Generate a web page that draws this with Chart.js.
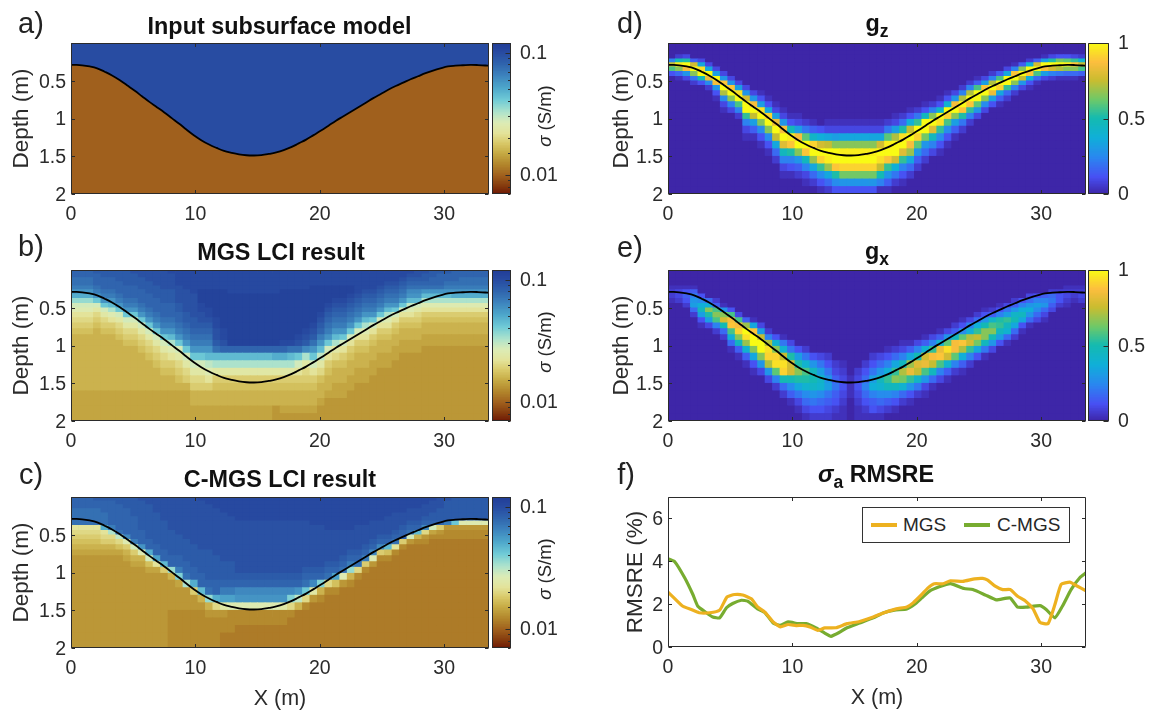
<!DOCTYPE html>
<html><head><meta charset="utf-8">
<script src="https://cdn.jsdelivr.net/npm/chart.js@4/dist/chart.umd.js"></script>
<style>
html,body{margin:0;padding:0;background:#fff;width:1150px;height:713px;overflow:hidden;font-family:"Liberation Sans",Arial,sans-serif;color:#262626}
canvas{position:absolute}
.t{position:absolute;white-space:nowrap;transform:translate(-50%,-50%)}
.title{font-weight:bold;font-size:23.4px;color:#111}
.title sub{font-size:17.5px;vertical-align:-6px;line-height:0}
.letter{font-size:29px;color:#222}
.cb{font-size:18.5px;transform:translate(-50%,-50%) rotate(-90deg)}
#legend{position:absolute;left:862px;top:507px;width:206px;height:34px;border:1px solid #333;background:#fff;font-size:19px;z-index:5}
#legend span{position:absolute;top:6px}
#legend b{position:absolute;top:15px;height:4px;width:26px}
</style></head><body>
<div id="legend"><b style="left:8px;background:#edb120"></b><span style="left:40px">MGS</span><b style="left:101px;background:#77ac30"></b><span style="left:134px">C-MGS</span></div>
<script>
const seriesNames = ["MGS", "C-MGS"];
const xTicks = [0, 10, 20, 30];
const depthTicks = [0.5, 1, 1.5, 2];
const sigmaTicks = [0.1, 0.01];
const sensTicks = [0, 0.5, 1];
const columnX = [0.3,0.9,1.5,2.1,2.7,3.3,3.9,4.5,5.1,5.7,6.3,6.9,7.5,8.1,8.7,9.3,9.9,10.5,11.1,11.7,12.3,12.9,13.5,14.1,14.7,15.3,15.9,16.5,17.1,17.7,18.3,18.9,19.5,20.1,20.7,21.3,21.9,22.5,23.1,23.7,24.3,24.9,25.5,26.1,26.7,27.3,27.9,28.5,29.1,29.7,30.3,30.9,31.5,32.1,32.7,33.3];
const layerTop = [0,0.05,0.10,0.155,0.21,0.26,0.315,0.375,0.44,0.50,0.56,0.63,0.70,0.775,0.855,0.93,1.01,1.10,1.20,1.30,1.40,1.50,1.60,1.70,1.80,1.90];
const interfaceX = [0].concat(columnX, [33.6]);
const interfaceDepth = [0.29,0.29,0.295,0.31,0.335,0.38,0.43,0.49,0.56,0.63,0.705,0.78,0.85,0.92,0.995,1.07,1.15,1.225,1.29,1.345,1.39,1.43,1.455,1.475,1.487,1.49,1.485,1.47,1.45,1.42,1.38,1.33,1.28,1.22,1.16,1.095,1.03,0.97,0.91,0.85,0.79,0.73,0.675,0.62,0.57,0.525,0.48,0.44,0.40,0.365,0.335,0.31,0.30,0.295,0.29,0.292,0.298,0.30];

// Panel b: colour level (base 36) per layer, top to bottom, last level repeats to the base
const mgsColumns = ["uuttsqokhgedcbaaaaaaaa9999","uuttsqokhgedcbaaaaaaaa9999","uuttsqokhgedcbaaaaaaaa9999","vuuutsqmhfdcbaaaaaaaaa9999","vvuuutsqmhfdcbaaaaaaaa9999","vvuuutsqnjgecbaaaaaaaa9999","vvvuuutsqmhfdcbaaaaaaa9999","vvvvuuutsqmhfdcbaaaaaa9999","wvvvuuutsqmhfdcbaaaaaa9999","wwvvvuuutsqmhfdcbaaaaa9999","wwwvvvuuutsqmhfdcbaaaa9999","wwwwvvvuuutsqmhfdcbaaa9999","wwwwwvvvuuutsqmhfdcbaa9999","xwwwwvvvuuutsqnjgecbaa9999","xxxxwwwwvvuutsqmhfdcba9999","xxxxxwwwwwvvutsqmhfdca9999","xxxxxxwwwwwvvutsqmhfdcaa99","xxxxxyyyxxwwvutsqmhfdcaa99","xxxxxyyyyxxwvutsqnigecaa99","xxxxxyyyyyyxxwwvtnjfcbaa99","xxxxxyyyyyyyyxxwunjfcbaa99","xxxxxxyyyyyyyyyyunjfcbaa99","xxxxxxyyyyyyyyyyunjfcbaa99","xxxxxxyyyyyyyyyyunjfcbaa99","xxxxxxyyyyyyyyyyunjfcbaa99","xxxxxxyyyyyyyyyyunjfcbaa99","xxxxxxyyyyyyyyyyunjfcbaa99","xxxxxxyyyyyyyyyyuojfcbaa88","xxxxxyyyyyyyyyyxuojfcbaa98","xxxxxyyyyyyyyyyxtnjfcbaa98","xxxxxyyyyyyyyyxwtmhecbaa98","xxxxxyyyyyyyyxwvrjfdcbaa98","xxxxyyyyyyyyxwvtqmhecbaa98","xxxxyyyyyyxwvusqnifdbaa988","xxxxyyyyxwvutsqmhecbaa9888","xxxxyyyxwvutsqnjfdbaa99888","xxxxyyyxwvutsqmhecbaa99888","xxxxyyxwvutsqmhecbaa998888","xxxxxxwvutsqmhecbaa9988888","xxxxxwvutsqnjgecbaa9988888","xxxxxwvutsqmhecbaa99888888","xxxxwvutsqmhecbaa998888888","xxxwvutsqnjgecbaa998888888","xxxwvutsqmhecbaa9988888888","xxwvutsqmhecbaa99888888888","xwvutrqnigecbaa99888888888","wwvutrqnhfdcbaa99888888888","wvvutqnjgecbaa998888888888","vvuutqnjgecbaa998888888888","vuuutqnjgecbaa998888888888","vuutsqnjgecbaa998888888888","uuutsqojgecbaa998888888888","uuttsqojgecbaa998888888888","uuttsqojgecbaa998888888888","uuttsqojgecbaa998888888888","uuttsqojgecbaa998888888888"];
// Panel c
const cmgsColumns = ["uuuttttedcba98","uuuttttedcba98","uuuttttedcba98","vuuttttedcba98","vuuutttoedca98","vuuuuuusjdca98","vvuuuuuutidb98","vvvuuuuuurgca98","vvvvvuuuuushca98","wvvvvvvvuuuqga98","wwvvvvvvvvuuohb98","wwwwvvvvvvvuupe98","wwwwwwvvvvvvuunc8","wwwwwwwwvvvvvuuka88887","wwwwwwwwwvvvvuusl98887","wwwwwwwwwwvvvvuutj8887","wwwwwwwwwwwvvvvuuoc887","xwwwwwwwwwwwvvvvuuna87","xxwwwwwwwwwwvvvvvutka87","xxxwwwwwwwwwwvvvvuuod87","xxxxwwwwwwwwwwvvvuspf87766","xxxxxwwwwwwwwwvvvuspg77766","xxxxxxwwwwwwwwwwvurqg77666","xxxxxxwwwwwwwwwwvurqg77666","xxxxxxwwwwwwwwwwvurqg77666","xxxxxxwwwwwwwwwwvurqg77666","xxxxxxwwwwwwwwwwvurqg77666","xxxxxxwwwwwwwwwwvurqg77666","xxxxxxwwwwwwwwwwvurqf77666","xxxxxxwwwwwwwwwwvurld76","xxxxxxwwwwwwwwwwvuqia6","xxxxxxwwwwwwwwwvutmd76","xxxxxxxwwwwwwwwvurf86","xxxxxxxwwwwwwwwvula76","xxxxxxxxwwwwwwvutd76","xxxxxxxxwwwwwwvupb76","xxxxxxxxwwwwwvutg86","xxxxxxxxwwwwvuska76","xxxxxxxwwwwwvutd76","xxxxxxxwwwwvusc76","xxxxxxwwwwvurg86","xxxxxxwwwvurc76","xxxxxwwwwvunb76","xxxxwwwwvute76","xxxxwwwvuuc76","xxxwwwvuth86","xxxwwwvuna76","xxwwwvurd876","xwwwvvuh976","wwwvvvuc876","wvvvvvs8776","vvvvvvm8776","vvvvvvg8776","vvvvvvg8776","vvvvvvg8776","vvvvvvg8776"];
// Panel d: first non-zero layer of each column, then its levels
const gzStart = [4,3,3,4,4,5,6,7,8,9,10,11,11,12,13,14,15,15,16,16,17,16,16,16,16,16,16,16,16,16,15,15,14,14,13,13,12,11,11,10,9,8,8,7,7,6,5,5,4,4,3,3,3,3,3,3];
const gzColumns = ["8qk4","2hyn61","3izua3","5rzn72","3cxzh4","3czt92","3bzua41","3avzp931","3avzn83","3bxzk82","3arzzj831","3auzqb51","14bxzn941","14cwzn941","13btzqc62","13auzsg831","14hyvi841","13buzna52","27lzvg831","15fwzoc62","4drzwj941","13cqzyoc62","13bnzzvi94","13cnyzwma4","13cnyzwma4","13cnyzwma4","13cnyzwma4","13cnyzwma4","13crzxqh81","27lyzvja51","13bpzzrd72","26ixzsj841","14dqzuoc62","27jzwla52","14gzzma62","28nzsg83","14fzxj941","14ezwk941","3auznb51","28pzvi72","28pzvj82","15kzzla3","3bvzn93","28pztb4","5kzwc51","3czzj62","18vzn82","5nzqa3","2dzvd41","5rzk61","1bzub3","3izr82","4mzp71","4lyn61","3jvn61","2eqk5"];
// Panel e
const gxStart = [4,4,4,4,6,7,7,8,9,10,11,11,12,13,14,14,15,16,16,17,17,17,18,18,20,19,18,17,17,16,16,15,15,15,14,14,13,13,12,11,11,10,9,9,8,8,7,7,6,6,6,5,5,4,4,4];
const gxColumns = ["1221","1332","14542","158ab62","49dgb41","6dnib3","25knk82","1anrh62","4kuvkd61","3kuwng51","5ozxoe51","1cvzznc41","3bqzzna3","28pxwpa3","4enwxl82","17eqxwh62","37irrh951","4binic731","27ekie9631","4aghfa742","37bfe9642","247ab7532","23575421","12343211","111","2343211","24686421","247bd8541","36age9631","148djg952","26cjng841","138gpme62","15cotja41","38hsqf72","15ertka31","38juqg61","15etvk83","3alxre51","25guul82","149lvpd51","38dprj82","26djqmc4","14ahnng71","25fknha3","148ijgb4","37bjge61","25afhc62","48dgc41","36ada61","48b963","58a631","26753","2442","12321","1221","1232"];

// Panel f
const mgsX = [0,0.54,1.2,1.87,2.5,3.35,4.15,4.75,5.35,6,6.7,7.2,7.8,8.45,9.03,9.65,10.3,10.85,11.4,12.05,12.6,13.5,14.4,15.4,16.5,17.3,18.35,19.2,19.7,20.4,20.9,21.4,22.1,22.7,23.7,24.65,25.3,25.7,26.3,26.9,27.5,28.1,28.75,29.35,29.9,30.55,31.1,31.6,32.3,32.8,33.6];
const mgsY = [2.56,2.26,1.9,1.75,1.6,1.6,1.72,2.34,2.45,2.43,2.25,1.87,1.62,1.17,0.94,1.05,1.0,1.01,0.94,0.78,0.89,0.9,1.09,1.19,1.4,1.59,1.78,1.87,2.06,2.45,2.76,2.95,2.95,3.09,3.06,3.18,3.2,3.12,2.84,2.68,2.68,2.37,2.14,1.78,1.15,1.09,1.98,2.92,3.03,2.87,2.62];
const cmgsX = [0,0.54,1.34,2,2.4,3.08,3.6,4.15,4.7,5.2,5.9,6.4,7.2,7.8,8.45,9,9.65,10.45,11.1,11.9,12.6,13.1,13.8,14.35,15.4,16.5,17.3,18.2,19.2,19.8,20.4,21,21.8,22.7,23.8,24.5,25.5,26.4,27.5,28.1,28.8,29.9,30.4,31.1,31.7,32.4,33.1,33.6];
const cmgsY = [4.12,3.98,3.23,2.45,1.9,1.6,1.4,1.36,1.83,2.03,2.18,2.14,1.78,1.6,1.12,1.01,1.17,1.09,1.09,0.89,0.65,0.5,0.69,0.89,1.12,1.36,1.59,1.72,1.78,1.98,2.29,2.6,2.81,2.96,2.73,2.68,2.43,2.2,2.29,1.86,1.86,1.93,1.75,1.36,1.9,2.68,3.23,3.46];

const romaStops = [[0,"#6f1a05"],[0.05,"#843a0e"],[0.12,"#a0601d"],[0.2,"#b48a2e"],[0.27,"#c6ab45"],[0.33,"#d8c766"],[0.4,"#e3e39a"],[0.47,"#dcecb6"],[0.54,"#aee3cc"],[0.62,"#70cbd6"],[0.7,"#4ea7cb"],[0.78,"#3d84bd"],[0.86,"#2f63ad"],[0.93,"#284ca2"],[1,"#213c97"]];
const parulaStops = [[0,"#3e26a8"],[0.11,"#4850f3"],[0.24,"#2a87f0"],[0.37,"#10afd8"],[0.5,"#14bab0"],[0.62,"#6cc96a"],[0.75,"#c9bc30"],[0.87,"#fcbe3e"],[1,"#f9fb14"]];
const LOW = "#a0601d", HIGH = "#284ca2";

function hex(h){return [1,3,5].map(i=>parseInt(h.substr(i,2),16));}
function colorAt(stops,t){
  t=Math.max(0,Math.min(1,t));
  for(let i=1;i<stops.length;i++){
    if(t<=stops[i][0]){
      const a=stops[i-1],b=stops[i],f=(t-a[0])/(b[0]-a[0]),p=hex(a[1]),q=hex(b[1]);
      return `rgb(${p.map((v,k)=>Math.round(v+(q[k]-v)*f)).join(",")})`;
    }
  }
  return stops[stops.length-1][1];
}
const INK="#2b2b2b";
const FONT="'Liberation Sans',Arial,sans-serif";
Chart.defaults.font.family=FONT;
Chart.defaults.color=INK;
Chart.defaults.animation=false;
const noGrid={display:false,drawTicks:false,offset:false};

const frame={id:"frame",
 beforeDatasetsDraw(c){
  const o=c.options.plugins.frame||{};
  if(o.bg){const a=c.chartArea;c.ctx.save();c.ctx.fillStyle=o.bg;c.ctx.fillRect(a.left,a.top,a.right-a.left,a.bottom-a.top);c.ctx.restore();}
 },
 afterDraw(c){
  const {ctx,chartArea:a,scales}=c;
  ctx.save();ctx.strokeStyle=INK;ctx.lineWidth=1;ctx.beginPath();
  const L=Math.round(a.left)+.5,R=Math.round(a.right)-.5,T=Math.round(a.top)+.5,B=Math.round(a.bottom)-.5;
  ctx.rect(L,T,R-L,B-T);
  const o=c.options.plugins.frame||{};
  if(o.bar){
    scales.y.ticks.forEach(t=>{const p=Math.round(scales.y.getPixelForValue(t.value))+.5;const n=t.label?5:2.5;
      ctx.moveTo(R,p);ctx.lineTo(R-n,p);});
  }else{
    scales.x.ticks.forEach(t=>{const p=Math.round(scales.x.getPixelForValue(t.value))+.5;ctx.moveTo(p,B);ctx.lineTo(p,B-3.5);ctx.moveTo(p,T);ctx.lineTo(p,T+3.5);});
    scales.y.ticks.forEach(t=>{const p=Math.round(scales.y.getPixelForValue(t.value))+.5;ctx.moveTo(L,p);ctx.lineTo(L+3.5,p);ctx.moveTo(R,p);ctx.lineTo(R-3.5,p);});
  }
  ctx.stroke();ctx.restore();
}};

function place(left,top,w,h,m){
  const cv=document.createElement("canvas");
  cv.width=w+m.l+m.r;cv.height=h+m.t+m.b;
  cv.style.left=(left-m.l)+"px";cv.style.top=(top-m.t)+"px";
  document.body.appendChild(cv);return cv;
}
function xScale(m,showTitle){return {type:"linear",min:0,max:33.6,position:"bottom",offset:false,
  grid:noGrid,border:{display:false},
  afterBuildTicks(s){s.ticks=xTicks.map(v=>({value:v}));},
  afterFit(s){s.height=m.b;},
  ticks:{font:{size:19.5},padding:9,maxRotation:0,autoSkip:false,color:INK,callback:v=>String(v)},
  title:{display:showTitle,text:"X (m)",font:{size:21.5},color:INK,padding:{top:0,bottom:2}}};}
function depthScale(m){return {type:"linear",min:0,max:2,reverse:true,
  grid:noGrid,border:{display:false},
  afterBuildTicks(s){s.ticks=depthTicks.map(v=>({value:v}));},
  afterFit(s){s.width=m.l;},
  ticks:{font:{size:19.5},padding:5,labelOffset:1.5,autoSkip:false,color:INK,callback:v=>String(v)},
  title:{display:true,text:"Depth (m)",font:{size:22.5},color:INK,padding:{top:8,bottom:0}}};}
function curve(){return interfaceX.map((x,i)=>({x,y:interfaceDepth[i]}));}
const curveDs=()=>({type:"line",label:"Interface",data:curve(),borderColor:"#000",borderWidth:1.8,pointRadius:0,fill:false,tension:0.4});

// One bar dataset per layer; each bar reaches the base so that no seam shows between layers
function layerDatasets(getLevel,stops){
  const out=[];
  for(let j=layerTop.length-1;j>=0;j--){
    out.push({label:"Layer "+(j+1),grouped:false,barPercentage:1,categoryPercentage:1,borderWidth:0,
      data:columnX.map(x=>({x,y:[layerTop[j],2]})),
      backgroundColor:columnX.map((x,i)=>colorAt(stops,getLevel(i,j)))});
  }
  return out;
}
const lev=c=>c===undefined?0:parseInt(c,36)/35;
const full=cols=>(i,j)=>{const s=cols[i];return lev(s[Math.min(j,s.length-1)]);};
const offset=(st,cols)=>(i,j)=>lev(cols[i][j-st[i]]);

function heat(top,left,datasets,showX,bg){
  const m={l:left>500?68:71,t:22,r:4,b:showX?66:30};
  const cv=place(left,top,418,151,m);
  new Chart(cv,{type:"bar",data:{datasets},plugins:[frame],options:{responsive:false,animation:false,
    layout:{autoPadding:false,padding:{top:m.t,right:m.r,left:0,bottom:0}},
    plugins:{legend:{display:false},tooltip:{enabled:false},frame:{bg}},
    scales:{x:xScale(m,showX),y:depthScale(m)}}});
}
function colorbar(top,left,w,log){
  const m={l:0,t:24,r:60,b:24};
  const cv=place(left,top,w,151,m);
  const N=96,ds=[];
  const vmin=log?0.00695:0,vmax=log?0.12:1;
  for(let k=0;k<N;k++){
    const f=(k+1)/N;
    const up=log?Math.pow(10,Math.log10(vmin)+f*(Math.log10(vmax)-Math.log10(vmin))):f;
    ds.push({label:"level",data:[[vmin,up]],backgroundColor:colorAt(log?romaStops:parulaStops,(k+.5)/N),borderWidth:0,grouped:false,barPercentage:1,categoryPercentage:1});
  }
  new Chart(cv,{type:"bar",data:{labels:["scale"],datasets:ds},plugins:[frame],options:{responsive:false,animation:false,
    layout:{autoPadding:false,padding:{top:m.t,bottom:m.b,left:0,right:0}},
    plugins:{legend:{display:false},tooltip:{enabled:false},frame:{bar:true}},
    scales:{x:{display:false},
      y:{type:log?"logarithmic":"linear",position:"right",min:vmin,max:vmax,
        grid:{display:false,drawTicks:false},border:{display:false},
        afterBuildTicks(s){ if(!log) s.ticks=sensTicks.map(v=>({value:v})); },
        afterFit(s){s.width=m.r;},
        ticks:{font:{size:19.5},padding:9,labelOffset:1,autoSkip:false,color:INK,maxRotation:0,
          callback(v){ if(!log) return String(v);
            return sigmaTicks.some(t=>Math.abs(t-v)<t*1e-6)?String(+v.toPrecision(1)):""; }}}}}});
}

// a
heat(43,71,[
  curveDs(),
  {type:"line",label:"Conductive layer",data:curve(),borderWidth:0,pointRadius:0,tension:0.4,fill:{value:0},backgroundColor:HIGH},
  {type:"line",label:"Resistive layer",data:curve(),borderWidth:0,pointRadius:0,tension:0.4,fill:{value:2},backgroundColor:LOW}
],false);
colorbar(43,492,19,true);
// b
heat(270,71,[curveDs()].concat(layerDatasets(full(mgsColumns),romaStops)),false,"#c6ab45");
colorbar(270,492,19,true);
// c
heat(497,71,[curveDs()].concat(layerDatasets(full(cmgsColumns),romaStops)),true,"#b48a2e");
colorbar(497,492,19,true);
// d
heat(43,668,[curveDs()].concat(layerDatasets(offset(gzStart,gzColumns),parulaStops)),false,"#3e26a8");
colorbar(43,1088,21,false);
// e
heat(270,668,[curveDs()].concat(layerDatasets(offset(gxStart,gxColumns),parulaStops)),false,"#3e26a8");
colorbar(270,1088,21,false);
// f
(function(){
  const m={l:68,t:22,r:4,b:66};
  const cv=place(668,497,418,150,m);
  new Chart(cv,{type:"line",data:{datasets:[
    {label:seriesNames[1],data:cmgsX.map((x,i)=>({x,y:cmgsY[i]})),borderColor:"#77ac30",borderWidth:3.2,pointRadius:0,tension:0.15,borderJoinStyle:"round",order:2},
    {label:seriesNames[0],data:mgsX.map((x,i)=>({x,y:mgsY[i]})),borderColor:"#edb120",borderWidth:3.2,pointRadius:0,tension:0.15,borderJoinStyle:"round",order:1}
  ]},plugins:[frame],options:{responsive:false,animation:false,layout:{autoPadding:false,padding:{top:m.t,right:m.r,left:0,bottom:0}},
    plugins:{legend:{display:false},tooltip:{enabled:false},frame:{}},
    scales:{x:xScale(m,true),
      y:{type:"linear",min:0,max:7,grid:noGrid,border:{display:false},
        afterBuildTicks(s){s.ticks=[0,2,4,6].map(v=>({value:v}));},
        afterFit(s){s.width=m.l;},
        ticks:{font:{size:19.5},padding:5,labelOffset:1.5,autoSkip:false,color:INK,callback:v=>String(v)},
        title:{display:true,text:"RMSRE (%)",font:{size:22.5},color:INK,padding:{top:22,bottom:0}}}}}});
})();

// Text overlays
function text(cls,x,y,html){const d=document.createElement("div");d.className="t "+cls;d.style.left=x+"px";d.style.top=y+"px";d.innerHTML=html;document.body.appendChild(d);}
[["a)",31,23],["b)",31,246],["c)",31,474],["d)",630,23],["e)",630,247],["f)",626,474]].forEach(l=>text("letter",l[1],l[2],l[0]));
text("title",279.5,26,"Input subsurface model");
text("title",281,252,"MGS LCI result");
text("title",280,479,"C-MGS LCI result");
text("title",877,23,"g<sub>z</sub>");
text("title",877,251,"g<sub>x</sub>");
text("title",876,474,"<i>σ</i><sub>a</sub> RMSRE");
[116,342,569].forEach(y=>text("cb",545,y,"<i>σ</i> (S/m)"));
</script>
</body></html>
